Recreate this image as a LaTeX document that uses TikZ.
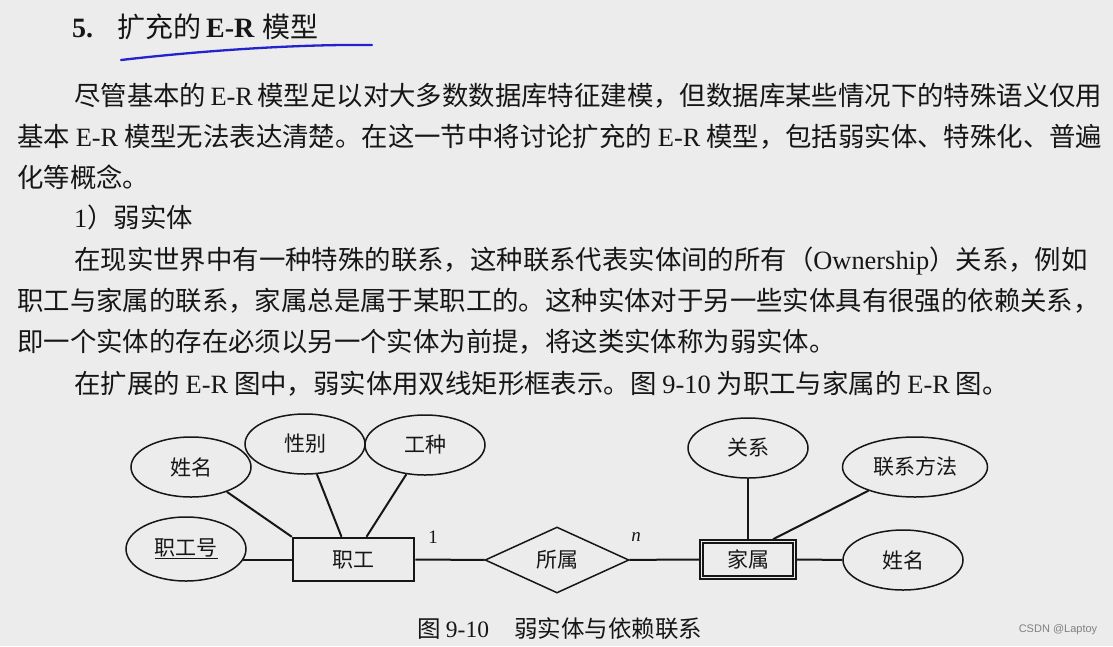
\documentclass[tikz,border=0pt]{standalone}
\usepackage{fontspec}
\setmainfont{Noto Sans CJK SC}
\newfontfamily\lat{Liberation Serif}
\newfontfamily\latsans{Liberation Sans}
\usetikzlibrary{shapes.geometric}
\XeTeXlinebreaklocale "zh"
\XeTeXlinebreakskip=0pt plus 4pt minus 1pt
\definecolor{bg}{RGB}{236,236,236}
\definecolor{ink}{RGB}{22,22,22}
\definecolor{pen}{RGB}{35,35,205}
\newcommand\bodyfont{\fontsize{26.4}{30}\selectfont}
\newcommand\figfont{\fontsize{21}{23}\selectfont}
\begin{document}
\begin{tikzpicture}[x=1pt,y=-1pt,
  every node/.style={text=ink, inner sep=0pt},
  txt/.style={anchor=base west, font=\bodyfont},
  attr/.style={draw=ink, ellipse, line width=1.5pt, minimum width=120pt, minimum height=60pt, font=\figfont},
  ent/.style={draw=ink, rectangle, line width=2.5pt, minimum width=121pt, minimum height=43pt, font=\figfont},
  weakent/.style={draw=ink, rectangle, line width=1.5pt, minimum width=96pt, minimum height=39pt, font=\figfont},
  rel/.style={draw=ink, diamond, line width=1.5pt, minimum width=144pt, minimum height=66pt, font=\figfont},
  conn/.style={draw=ink, line width=2pt},
  lbl/.style={font=\lat\fontsize{19}{20}\selectfont}
]
\useasboundingbox[fill=bg] (0,0) rectangle (1113,646);

% title
\node[anchor=base west, font=\fontsize{28}{30}\selectfont] (title) at (72,37)
  {{\lat\bfseries 5.}\hskip 24pt 扩充的\hskip 5pt{\lat\bfseries E-R}\hskip 8pt 模型};
\draw[pen, line width=2.3pt, line cap=round] (121,60) .. controls (190,52) and (290,44) .. (372,45);

% body text
\node[txt] (l1) at (74,105) {\hbox to 1028pt{尽管基本的 {\lat E-R} 模型足以对大多数数据库特征建模，但数据库某些情况下的特殊语义仅用}};
\node[txt] (l2) at (17,146) {\hbox to 1085pt{基本 {\lat E-R} 模型无法表达清楚。在这一节中将讨论扩充的 {\lat E-R} 模型，包括弱实体、特殊化、普遍}};
\node[txt] (l3) at (17,187) {化等概念。};
\node[txt] (l4) at (74,227) {{\lat 1}）弱实体};
\node[txt] (l5) at (74,269) {\hbox to 1028pt{在现实世界中有一种特殊的联系，这种联系代表实体间的所有（{\lat Ownership}）关系，例如}};
\node[txt] (l6) at (17,310) {\hbox to 1083pt{职工与家属的联系，家属总是属于某职工的。这种实体对于另一些实体具有很强的依赖关系，}};
\node[txt] (l7) at (17,351) {即一个实体的存在必须以另一个实体为前提，将这类实体称为弱实体。};
\node[txt] (l8) at (74,393) {在扩展的 {\lat E-R} 图中，弱实体用双线矩形框表示。图 {\lat 9-10} 为职工与家属的 {\lat E-R} 图。};

% diagram
\node[attr] (xm1) at (191,467) {姓名};
\node[attr] (xb) at (305,444) {性别};
\node[attr] (gz) at (425,445) {工种};
\node[attr, minimum height=64pt] (zgh) at (186,549) {\underline{职工号}};
\node[ent] (zg) at (353.5,559.5) {职工};
\node[rel] (sr) at (557,560) {所属};
\node[weakent] (js) at (748,559.5) {家属};
\draw[ink, line width=2.4pt] ([shift={(4,4)}]js.north west) rectangle ([shift={(-4,-4)}]js.south east);
\node[attr] (gx) at (748,448) {关系};
\node[attr, minimum width=145pt] (lxff) at (915,467) {联系方法};
\node[attr] (xm2) at (903,560) {姓名};

\coordinate (zgA) at ([xshift=-12pt]zg.north);
\coordinate (zgB) at ([xshift=13pt]zg.north);
\coordinate (jsA) at ([xshift=25pt]js.north);

\draw[conn] (xm1) -- (zg.north west);
\draw[conn] (xb) -- (zgA);
\draw[conn] (gz) -- (zgB);
\draw[conn] (zgh.-11) -- (zgh.-11 -| zg.west);
\draw[conn] (zg) -- (sr);
\draw[conn] (sr) -- (js);
\draw[conn] (gx) -- (js);
\draw[conn] (lxff) -- (jsA);
\draw[conn] (js) -- (xm2);

\node[lbl] (one) at (433,537) {1};
\node[lbl, font=\lat\itshape\fontsize{19}{20}\selectfont] (nn) at (636,537) {n};

% caption
\node[anchor=west, font=\fontsize{23.5}{25}\selectfont] (cap) at (417,629) {图 {\lat 9-10}\hskip 25pt 弱实体与依赖联系};
\node[font=\latsans\fontsize{11}{12}\selectfont, text=gray] (wm) at (1058,630) {CSDN @Laptoy};
\end{tikzpicture}
\end{document}
